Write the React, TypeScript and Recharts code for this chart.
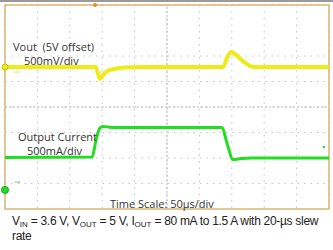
import React from "react";
import { LineChart, Line, XAxis, YAxis, CartesianGrid, ReferenceLine, ReferenceArea, ReferenceDot } from "recharts";

// Time in scope divisions (50 µs/div), values in screen divisions (0 = bottom graticule)
const voutTime = [0, 2.8, 2.93, 3.05, 3.2, 3.4, 3.6, 3.9, 4.5, 5.5, 6.73, 6.86, 6.98, 7.1, 7.25, 7.45, 7.65, 8.5, 10];
const voutDiv = [5.57, 5.57, 5.1, 5.3, 5.43, 5.5, 5.54, 5.56, 5.57, 5.57, 5.57, 5.95, 6.16, 6.08, 5.9, 5.7, 5.57, 5.57, 5.57];

const ioutTime = [0, 2.69, 2.81, 2.93, 3.02, 3.3, 5.0, 6.7, 6.85, 7.04, 7.3, 7.6, 10];
const ioutDiv = [2.02, 2.04, 2.71, 3.18, 3.24, 3.2, 3.2, 3.2, 2.59, 1.94, 1.98, 2.0, 2.0];

const xTicks = [0, 1, 2, 3, 4, 5, 6, 7, 8, 9, 10];
const yTicks = [0, 1, 2, 3, 4, 5, 6, 7, 8];

const voutData = voutTime.map((t, i) => ({ t, v: voutDiv[i] }));
const ioutData = ioutTime.map((t, i) => ({ t, v: ioutDiv[i] }));

const YELLOW = "#eeec16";
const GREEN = "#22dd22";
const labelFont = "'Open Sans', 'Noto Sans', sans-serif";
const capFont = "'Liberation Sans', Arial, sans-serif";

const Sub = ({ children }: { children: React.ReactNode }) => (
  <span style={{ fontSize: 8, position: "relative", top: 2, letterSpacing: 0, lineHeight: "8px" }}>{children}</span>
);

const lbl: React.CSSProperties = { position: "absolute", fontFamily: labelFont, fontSize: 11, color: "#333", lineHeight: "11px", whiteSpace: "pre" };
const cap: React.CSSProperties = { position: "absolute", left: 12, whiteSpace: "nowrap", fontFamily: capFont, fontSize: 12, letterSpacing: -0.3, color: "#222", lineHeight: "13px" };

export default function App() {
  return (
    <div style={{ position: "absolute", left: 0, top: 0, width: 333, height: 250, background: "#fff" }}>
      <div style={{ position: "absolute", left: 0, top: 0, width: 333, height: 2, background: "#9a9a9a" }} />
      <LineChart width={333} height={212} margin={{ top: 5, right: 4, left: 5, bottom: 3 }}>
        <XAxis type="number" dataKey="t" domain={[0, 10]} ticks={xTicks} hide allowDuplicatedCategory={false} />
        <YAxis type="number" domain={[0, 8]} ticks={yTicks} hide />
        <CartesianGrid stroke="#c4c4c4" strokeDasharray="1.5 5" verticalValues={xTicks} horizontalValues={yTicks} />
        <ReferenceLine x={5} stroke="#b8b8b8" strokeDasharray="2 2" />
        <ReferenceLine y={4} stroke="#b8b8b8" strokeDasharray="2 2" />
        <ReferenceArea x1={0} x2={10} y1={0} y2={8} fill="none" stroke="#d8b772" strokeWidth={1.5} />
        <Line data={voutData} dataKey="v" type="monotone" stroke={YELLOW} strokeWidth={4} dot={false} isAnimationActive={false} />
        <Line data={ioutData} dataKey="v" type="monotone" stroke={GREEN} strokeWidth={3} dot={false} isAnimationActive={false} />
        <ReferenceDot x={0} y={5.57} r={3} fill={YELLOW} stroke="#c9c400" />
        <ReferenceDot x={0} y={0.75} r={3.5} fill={GREEN} stroke="#1aa81a" />
        <ReferenceDot x={9.84} y={2.43} r={1.2} fill={GREEN} stroke="none" />
        <ReferenceDot x={2.78} y={8} r={2} fill="#f08a1c" stroke="none" />
      </LineChart>
      <div style={{ ...lbl, left: 13, top: 41 }}>{"Vout  (5V offset)"}</div>
      <div style={{ ...lbl, left: 24, top: 55 }}>500mV/div</div>
      <div style={{ position: "absolute", left: 14, top: 69, fontFamily: labelFont, fontSize: 4, color: "#d8d400", lineHeight: "5px" }}>out</div>
      <div style={{ ...lbl, left: 18, top: 131 }}>Output Current</div>
      <div style={{ ...lbl, left: 27, top: 145 }}>500mA/div</div>
      <div style={{ position: "absolute", left: 14, top: 179, fontFamily: labelFont, fontSize: 4, color: "#22bb22", lineHeight: "5px" }}>out</div>
      <div style={{ ...lbl, left: 110, top: 198 }}>Time Scale: 50µs/div</div>
      <div style={{ ...cap, top: 215 }}>
        V<Sub>IN</Sub> = 3.6 V, V<Sub>OUT</Sub> = 5 V, I<Sub>OUT</Sub> = 80 mA to 1.5 A with 20-µs slew
      </div>
      <div style={{ ...cap, top: 230 }}>rate</div>
    </div>
  );
}
